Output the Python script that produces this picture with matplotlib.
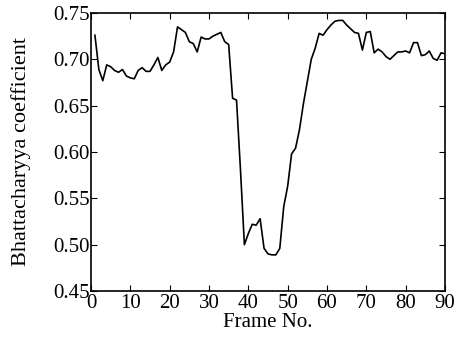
import numpy as np
import matplotlib
matplotlib.use('Agg')
import matplotlib.pyplot as plt

plt.rcParams['font.family'] = ['Liberation Serif', 'DejaVu Serif']

frames = np.arange(1, 91)
coef = [0.726, 0.689, 0.677, 0.694, 0.692, 0.688, 0.686, 0.689, 0.682, 0.680,
        0.679, 0.688, 0.691, 0.687, 0.687, 0.694, 0.702, 0.688, 0.694, 0.697,
        0.708, 0.735, 0.732, 0.729, 0.719, 0.717, 0.708, 0.724, 0.722, 0.722,
        0.725, 0.727, 0.729, 0.719, 0.716, 0.658, 0.656, 0.581, 0.500, 0.512,
        0.522, 0.521, 0.528, 0.496, 0.490, 0.489, 0.489, 0.496, 0.541, 0.563,
        0.598, 0.604, 0.624, 0.652, 0.676, 0.700, 0.712, 0.728, 0.726, 0.732,
        0.737, 0.741, 0.742, 0.742, 0.737, 0.733, 0.729, 0.728, 0.710, 0.729,
        0.730, 0.707, 0.711, 0.708, 0.703, 0.700, 0.704, 0.708, 0.708, 0.709,
        0.707, 0.718, 0.718, 0.704, 0.705, 0.709, 0.701, 0.699, 0.707, 0.706]
xticks = np.arange(0, 91, 10)
yticks = np.arange(0.45, 0.751, 0.05)

fig = plt.figure(figsize=(4.7, 3.39), dpi=100)
ax = fig.add_axes([0.1936, 0.1416, 0.7532, 0.8201])
ax.plot(frames, coef, color='black', lw=1.2)
ax.set_xlim(0, 90)
ax.set_ylim(0.45, 0.75)
ax.set_xticks(xticks)
ax.set_yticks(yticks)
ax.set_yticklabels(['%.2f' % v for v in yticks])
ax.tick_params(direction='in', top=True, right=True, labelsize=15, length=4, pad=1)
ax.tick_params(axis='x', pad=2)
for s in ax.spines.values():
    s.set_linewidth(1.2)
ax.set_xlabel('Frame No.', fontsize=15, labelpad=0)
ax.set_ylabel('Bhattacharyya coefficient', fontsize=16)
ax.yaxis.set_label_coords(-0.17, 0.5)
fig.savefig('out.png', dpi=100)
